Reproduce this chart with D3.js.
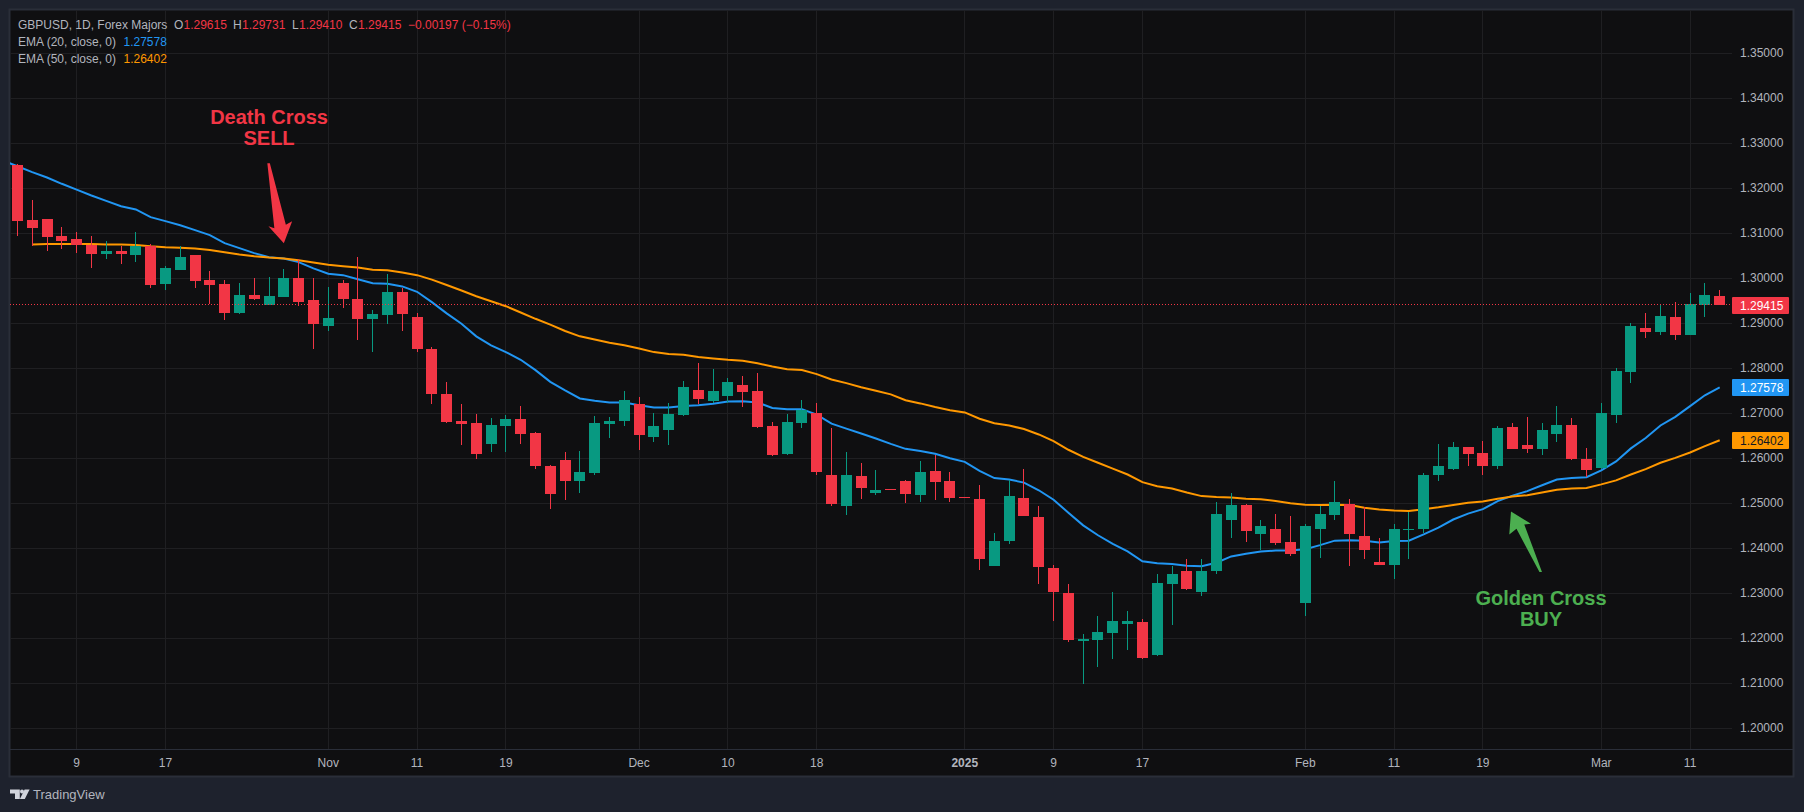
<!DOCTYPE html>
<html>
<head>
    <meta charset='utf-8'>
    <title>GBPUSD EMA cross</title>
    <style type="text/css">
        html, body { margin: 0; padding: 0; background: #1e222d; overflow: hidden; }
        svg { display: block; font-family: "Liberation Sans", Arial, sans-serif; }
        .grid line { stroke: #1f1f22; stroke-width: 1; shape-rendering: crispEdges; }
        .axis text { fill: #b2b5be; font-size: 12px; font-family: "Liberation Sans", Arial, sans-serif; }
        .axis path, .axis line { display: none; }
        .legend text { font-size: 12px; fill: #b2b5be; }
    </style>
</head>
<body>
    <script src="https://d3js.org/d3.v7.min.js"></script>

    <div id="svgContainer"></div>

    <script type="text/javascript">

        const opens = [1.3251,1.3129,1.3131,1.3093,1.3087,1.3075,1.3053,1.3060,1.3051,1.3071,
            1.2987,1.3018,1.3051,1.2996,1.2987,1.2922,1.2962,1.2940,1.2958,1.3000,
            1.2951,1.2895,1.2989,1.2955,1.2909,1.2918,1.2969,1.2913,1.2844,1.2744,
            1.2682,1.2678,1.2631,1.2671,1.2687,1.2656,1.2584,1.2596,1.2549,1.2567,
            1.2676,1.2682,1.2720,1.2647,1.2662,1.2696,1.2751,1.2727,1.2738,1.2764,
            1.2749,1.2671,1.2609,1.2678,1.2700,1.2564,1.2493,1.2560,1.2522,1.2531,
            1.2549,1.2518,1.2571,1.2549,1.2513,1.2509,1.2360,1.2416,1.2511,1.2469,
            1.2356,1.2300,1.2193,1.2196,1.2211,1.2231,1.2236,1.2162,1.2320,1.2349,
            1.2304,1.2349,1.2464,1.2496,1.2431,1.2442,1.2413,1.2278,1.2442,1.2473,
            1.2498,1.2427,1.2369,1.2364,1.2443,1.2442,1.2562,1.2576,1.2625,1.2611,
            1.2582,1.2669,1.2629,1.2620,1.2653,1.2673,1.2598,1.2578,1.2696,1.2791,
            1.2889,1.2880,1.2913,1.2873,1.2940,1.29615];

        const highs = [1.3253,1.3175,1.3132,1.3113,1.3102,1.3095,1.3084,1.3071,1.3104,1.3077,
            1.3027,1.3071,1.3052,1.3016,1.2996,1.2989,1.3000,1.3002,1.3020,1.3044,
            1.3000,1.2980,1.2996,1.3047,1.2929,1.3009,1.2978,1.2922,1.2847,1.2769,
            1.2720,1.2698,1.2689,1.2696,1.2716,1.2658,1.2585,1.2613,1.2616,1.2693,
            1.2691,1.2749,1.2736,1.2700,1.2722,1.2771,1.2811,1.2798,1.2778,1.2782,
            1.2789,1.2680,1.2698,1.2729,1.2724,1.2667,1.2613,1.2589,1.2573,1.2531,
            1.2551,1.2593,1.2607,1.2569,1.2513,1.2540,1.2433,1.2551,1.2576,1.2493,
            1.2364,1.2320,1.2209,1.2249,1.2304,1.2260,1.2244,1.2344,1.2360,1.2376,
            1.2376,1.2502,1.2522,1.2498,1.2462,1.2476,1.2471,1.2453,1.2493,1.2549,
            1.2509,1.2491,1.2422,1.2453,1.2480,1.2567,1.2631,1.2636,1.2626,1.2638,
            1.2671,1.2678,1.2691,1.2678,1.2716,1.2689,1.2622,1.2724,1.2800,1.2900,
            1.2924,1.2944,1.2947,1.2967,1.2989,1.29731];

        const lows = [1.3093,1.3071,1.3060,1.3065,1.3056,1.3022,1.3042,1.3031,1.3036,1.2978,
            1.2973,1.3018,1.2978,1.2944,1.2907,1.2921,1.2952,1.2940,1.2958,1.2938,
            1.2844,1.2884,1.2935,1.2862,1.2836,1.2898,1.2884,1.2836,1.2720,1.2679,
            1.2629,1.2598,1.2613,1.2613,1.2631,1.2576,1.2487,1.2507,1.2524,1.2564,
            1.2645,1.2671,1.2618,1.2636,1.2629,1.2693,1.2720,1.2722,1.2724,1.2713,
            1.2667,1.2606,1.2607,1.2667,1.2562,1.2493,1.2473,1.2509,1.2518,1.2529,
            1.2500,1.2504,1.2507,1.2504,1.2512,1.2351,1.2360,1.2409,1.2471,1.2320,
            1.2238,1.2191,1.2098,1.2136,1.2153,1.2173,1.2155,1.2160,1.2229,1.2307,
            1.2293,1.2344,1.2424,1.2413,1.2396,1.2407,1.2384,1.2249,1.2378,1.2462,
            1.2360,1.2376,1.2362,1.2331,1.2376,1.2433,1.2549,1.2575,1.2582,1.2562,
            1.2576,1.2620,1.2611,1.2607,1.2636,1.2597,1.2558,1.2577,1.2678,1.2767,
            1.2867,1.2873,1.2862,1.2873,1.2913,1.29410];

        const closes = [1.3127,1.3112,1.3091,1.3084,1.3073,1.3053,1.3060,1.3053,1.3071,1.2985,
            1.3022,1.3047,1.2993,1.2985,1.2922,1.2964,1.2953,1.2960,1.3000,1.2947,
            1.2898,1.2911,1.2953,1.2909,1.2920,1.2969,1.2920,1.2842,1.2742,1.2680,
            1.2676,1.2609,1.2673,1.2687,1.2653,1.2582,1.2520,1.2549,1.2569,1.2678,
            1.2684,1.2729,1.2651,1.2671,1.2698,1.2758,1.2731,1.2749,1.2769,1.2747,
            1.2669,1.2607,1.2680,1.2707,1.2569,1.2498,1.2562,1.2533,1.2529,1.2529,
            1.2520,1.2569,1.2547,1.2511,1.2512,1.2376,1.2416,1.2516,1.2471,1.2358,
            1.2304,1.2196,1.2198,1.2213,1.2238,1.2238,1.2156,1.2322,1.2344,1.2309,
            1.2349,1.2476,1.2496,1.2438,1.2449,1.2411,1.2387,1.2449,1.2476,1.2504,
            1.2431,1.2396,1.2364,1.2444,1.2444,1.2564,1.2582,1.2625,1.2609,1.2582,
            1.2667,1.2620,1.2620,1.2662,1.2673,1.2598,1.2573,1.2700,1.2793,1.2893,
            1.2880,1.2916,1.2873,1.2944,1.2962,1.29415];

        // ema20 starts one bar before the first visible candle, ema50 at bar 1
        const ema20 = [1.3262,1.3249,1.3236,1.3224,1.3210,1.3197,1.3184,1.3172,1.3160,1.3153,1.3136,
            1.3127,1.3118,1.3107,1.3096,1.3078,1.3067,1.3056,1.3047,1.3044,1.3036,
            1.3022,1.3010,1.3007,1.2998,1.2989,1.2988,1.2982,1.2970,1.2947,1.2922,
            1.2899,1.2871,1.2851,1.2836,1.2819,1.2796,1.2770,1.2751,1.2733,1.2728,
            1.2724,1.2724,1.2718,1.2713,1.2713,1.2716,1.2718,1.2721,1.2726,1.2727,
            1.2724,1.2712,1.2709,1.2709,1.2697,1.2677,1.2666,1.2655,1.2644,1.2632,
            1.2621,1.2616,1.2610,1.2600,1.2592,1.2572,1.2556,1.2553,1.2546,1.2529,
            1.2508,1.2479,1.2451,1.2429,1.2410,1.2393,1.2371,1.2367,1.2365,1.2361,
            1.2360,1.2368,1.2382,1.2388,1.2393,1.2395,1.2395,1.2398,1.2407,1.2417,
            1.2418,1.2417,1.2413,1.2416,1.2417,1.2431,1.2446,1.2464,1.2477,1.2487,
            1.2505,1.2517,1.2527,1.2540,1.2553,1.2556,1.2558,1.2573,1.2593,1.2622,
            1.2645,1.2673,1.2692,1.2716,1.2740,1.27578];

        const ema50 = [1.3075,1.3076,1.3076,1.3076,1.3076,1.3075,1.3075,1.3074,1.3071,
            1.3069,1.3068,1.3066,1.3063,1.3058,1.3053,1.3049,1.3046,1.3044,1.3040,
            1.3035,1.3030,1.3027,1.3024,1.3019,1.3018,1.3013,1.3007,1.2997,1.2985,
            1.2973,1.2960,1.2949,1.2938,1.2924,1.2910,1.2897,1.2883,1.2871,1.2864,
            1.2857,1.2851,1.2844,1.2836,1.2832,1.2830,1.2825,1.2822,1.2819,1.2817,
            1.2811,1.2804,1.2798,1.2796,1.2787,1.2775,1.2767,1.2758,1.2750,1.2742,
            1.2729,1.2722,1.2714,1.2707,1.2702,1.2688,1.2678,1.2673,1.2665,1.2653,
            1.2638,1.2619,1.2603,1.2590,1.2577,1.2564,1.2547,1.2538,1.2533,1.2524,
            1.2516,1.2514,1.2513,1.2510,1.2509,1.2505,1.2500,1.2497,1.2496,1.2497,
            1.2496,1.2490,1.2486,1.2484,1.2483,1.2487,1.2491,1.2496,1.2501,1.2504,
            1.2510,1.2515,1.2518,1.2524,1.2530,1.2533,1.2534,1.2542,1.2551,1.2564,
            1.2576,1.2590,1.2601,1.2613,1.2627,1.26402];

        const xTickBars = [4,10,21,27,33,42,48,54,64,70,76,87,93,99,107,113];
        const xTickLabels = ["9","17","Nov","11","19","Dec","10","18","2025","9","17","Feb","11","19","Mar","11"];
        const priceTicks = [1.20,1.21,1.22,1.23,1.24,1.25,1.26,1.27,1.28,1.29,1.30,1.31,1.32,1.33,1.34,1.35];

        const width = 1804;
        const height = 812;
        const red = "#f23645";
        const green = "#089981";
        const blue = "#2196f3";
        const orange = "#ff9800";

        const paneLeft = 10, paneTop = 10, paneRight = 1793, paneBottom = 776;
        const plotRight = 1732, plotBottom = 749;

        const x = d3.scaleLinear().domain([0, 115]).range([17.4, 1719.7]);
        const y = d3.scaleLinear().domain([1.20, 1.35]).range([728.3, 53.3]);
        const crisp = v => Math.floor(v) + 0.5;

        const svg = d3.select("#svgContainer").append("svg")
            .attr("width", width)
            .attr("height", height);

        svg.append("rect")
            .attr("x", paneLeft - 0.5).attr("y", paneTop - 0.5)
            .attr("width", paneRight - paneLeft + 1).attr("height", paneBottom - paneTop + 1)
            .attr("fill", "#0f0f11")
            .attr("stroke", "#2a2e39").attr("stroke-width", 2);

        svg.append("defs").append("clipPath").attr("id", "plotClip").append("rect")
            .attr("x", paneLeft).attr("y", paneTop)
            .attr("width", plotRight - paneLeft).attr("height", plotBottom - paneTop);

        const grid = svg.append("g").attr("class", "grid");
        grid.selectAll(".h").data(priceTicks).join("line").attr("class", "h")
            .attr("x1", paneLeft).attr("x2", plotRight)
            .attr("y1", d => crisp(y(d))).attr("y2", d => crisp(y(d)));
        grid.selectAll(".v").data(xTickBars).join("line").attr("class", "v")
            .attr("y1", paneTop).attr("y2", plotBottom)
            .attr("x1", d => crisp(x(d))).attr("x2", d => crisp(x(d)));

        // time axis rule
        svg.append("line")
            .attr("x1", paneLeft).attr("x2", paneRight)
            .attr("y1", plotBottom + 0.5).attr("y2", plotBottom + 0.5)
            .attr("stroke", "#2a2e39").attr("shape-rendering", "crispEdges");

        const plot = svg.append("g").attr("clip-path", "url(#plotClip)");

        const emaLine = start => d3.line()
            .x((d, i) => x(i + start))
            .y(d => y(d));

        plot.append("path").datum(ema20)
            .attr("d", emaLine(-1))
            .attr("fill", "none").attr("stroke", blue).attr("stroke-width", 2);
        plot.append("path").datum(ema50)
            .attr("d", emaLine(1))
            .attr("fill", "none").attr("stroke", orange).attr("stroke-width", 2);

        const candle = plot.selectAll(".candle")
            .data(opens)
            .join("g")
            .attr("class", "candle")
            .attr("fill", (d, i) => closes[i] >= opens[i] ? green : red)
            .attr("shape-rendering", "crispEdges");

        candle.append("rect")
            .attr("x", (d, i) => Math.floor(x(i)))
            .attr("width", 1)
            .attr("y", (d, i) => Math.round(y(highs[i])))
            .attr("height", (d, i) => Math.max(1, Math.round(y(lows[i])) - Math.round(y(highs[i]))));

        candle.append("rect")
            .attr("x", (d, i) => Math.floor(x(i)) - 5)
            .attr("width", 11)
            .attr("y", (d, i) => Math.round(y(Math.max(opens[i], closes[i]))))
            .attr("height", (d, i) => Math.max(1, Math.round(y(Math.min(opens[i], closes[i]))) - Math.round(y(Math.max(opens[i], closes[i])))));

        // last price line
        plot.append("line")
            .attr("x1", paneLeft).attr("x2", plotRight)
            .attr("y1", crisp(y(closes[115]))).attr("y2", crisp(y(closes[115])))
            .attr("stroke", red).attr("stroke-width", 1)
            .attr("stroke-dasharray", "1 2")
            .attr("shape-rendering", "crispEdges");

        // arrows hang off a bar/price anchor, the offsets only draw the shape
        const arrow = (bar, price, shape, color) => svg.append("polygon")
            .attr("points", shape.map(p => [x(bar) + p[0], y(price) + p[1]].join(",")).join(" "))
            .attr("fill", color);

        arrow(18, 1.3078, [[0,0],[-15.4,-17],[-9.5,-15],[-16.5,-80],[-14,-80],[2,-18.5],[8.3,-22]], red);
        arrow(100.9, 1.2482, [[0,0],[20,12.3],[13.3,13],[31,60.7],[28.5,60.7],[5.5,17.3],[-1.7,23]], "#4caf50");

        const note = (bar, price, label, color) => svg.append("text")
            .attr("x", x(bar)).attr("y", y(price))
            .attr("text-anchor", "middle")
            .attr("font-size", 20).attr("font-weight", "bold")
            .attr("fill", color)
            .text(label);

        note(17.0, 1.3342, "Death Cross", red);
        note(17.0, 1.32955, "SELL", red);
        note(102.93, 1.2273, "Golden Cross", "#4caf50");
        note(102.93, 1.2227, "BUY", "#4caf50");

        // axes
        const yAxis = d3.axisRight(y)
            .tickValues(priceTicks)
            .tickFormat(d3.format(".5f"))
            .tickSize(0)
            .tickPadding(8)
            .offset(0);
        svg.append("g").attr("class", "axis")
            .attr("transform", `translate(${plotRight},-0.5)`)
            .call(yAxis);

        const xAxis = d3.axisBottom(x)
            .tickValues(xTickBars)
            .tickFormat((d, i) => xTickLabels[i])
            .tickSize(0)
            .tickPadding(9)
            .offset(0);
        svg.append("g").attr("class", "axis")
            .attr("transform", `translate(0,${plotBottom})`)
            .call(xAxis)
            .selectAll("text")
            .attr("font-weight", (d, i) => xTickLabels[i] === "2025" ? "bold" : null);

        // price labels on the right
        const priceTags = [
            { value: closes[115], fill: red, text: "#ffffff" },
            { value: ema20[ema20.length - 1], fill: blue, text: "#ffffff" },
            { value: ema50[ema50.length - 1], fill: orange, text: "#131722" }
        ];
        const tag = svg.append("g").selectAll("g").data(priceTags).join("g")
            .attr("transform", d => `translate(${plotRight},${Math.round(y(d.value))})`);
        tag.append("rect")
            .attr("y", -8).attr("width", 57).attr("height", 17).attr("rx", 1)
            .attr("fill", d => d.fill);
        tag.append("text")
            .attr("x", 8).attr("y", 4.5)
            .attr("font-size", 12)
            .attr("fill", d => d.text)
            .text(d => d3.format(".5f")(d.value));

        // legend
        const legend = svg.append("g").attr("class", "legend");
        const legendRow = (rowY, parts) => parts.forEach(p => legend.append("text")
            .attr("x", p[0]).attr("y", rowY)
            .style("fill", p[2] || null)
            .text(p[1]));

        legendRow(29, [
            [18, "GBPUSD, 1D, Forex Majors"],
            [174, "O"], [183.5, d3.format(".5f")(opens[115]), red],
            [233, "H"], [242, d3.format(".5f")(highs[115]), red],
            [292, "L"], [299, d3.format(".5f")(lows[115]), red],
            [349, "C"], [358, d3.format(".5f")(closes[115]), red],
            [408, "\u22120.00197 (\u22120.15%)", red]
        ]);
        legendRow(46, [[18, "EMA (20, close, 0)"], [123.5, d3.format(".5f")(ema20[ema20.length - 1]), blue]]);
        legendRow(63, [[18, "EMA (50, close, 0)"], [123.5, d3.format(".5f")(ema50[ema50.length - 1]), orange]]);

        // footer mark
        const logo = svg.append("g").attr("fill", "#d1d4dc");
        logo.append("polygon").attr("points", "10,789.5 19.8,789.5 19.8,799 15,799 15,793.5 10,793.5");
        logo.append("circle").attr("cx", 22).attr("cy", 791.5).attr("r", 2);
        logo.append("polygon").attr("points", "24.6,789.5 29.6,789.5 24.8,799 19.9,799");
        svg.append("text")
            .attr("x", 33).attr("y", 799)
            .attr("font-size", 13)
            .attr("fill", "#b2b5be")
            .text("TradingView");

    </script>
</body>
</html>
